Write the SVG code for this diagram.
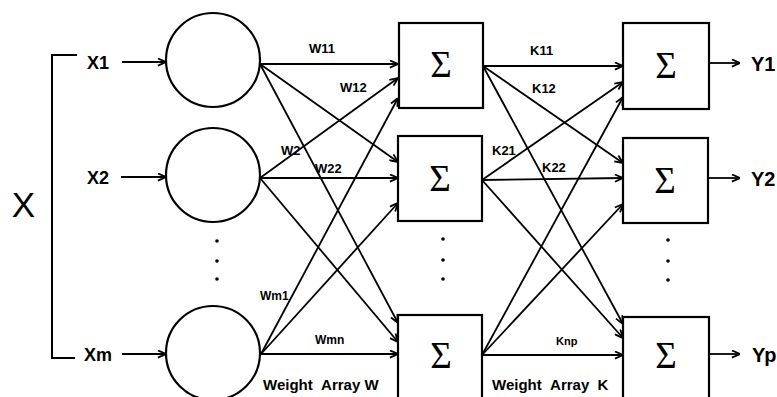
<svg xmlns="http://www.w3.org/2000/svg" width="777" height="397" viewBox="0 0 777 397">
<style>
.bg{fill:#fff}
.node{fill:#fff;stroke:#000;stroke-width:2.2}
.ln{stroke:#000;stroke-width:2;fill:none}
.arr{stroke:#000;stroke-width:1.8;fill:none;marker-end:url(#ah)}
.lab{font-family:"Liberation Sans",Arial,sans-serif;font-weight:bold;fill:#000}
.io{font-size:18px}
.w{font-size:13px}
.ws{font-size:12px}
.wa{font-size:15px}
.sig{font-family:"Liberation Serif","Times New Roman",serif;font-size:37px;fill:#000;text-anchor:middle}
.dot{fill:#000}
</style>
<defs>
<marker id="ah" viewBox="0 0 10 10" refX="10" refY="5" markerWidth="9" markerHeight="9" markerUnits="userSpaceOnUse" orient="auto">
<path d="M1,1 L10,5 L1,9" fill="none" stroke="#000" stroke-width="2"/>
</marker>
</defs>
<rect class="bg" x="0" y="0" width="777" height="397"/>

<g id="input-bracket">
<path class="ln" d="M77,55 H52 V358 H75"/>
<text x="23.5" y="217" font-family="'Liberation Sans',Arial,sans-serif" font-size="35" text-anchor="middle">X</text>
</g>

<g id="inputs">
<text class="lab io" x="87" y="69">X1</text>
<text class="lab io" x="87" y="184">X2</text>
<text class="lab io" x="84" y="361">Xm</text>
</g>

<g id="n1"><circle class="node" cx="213" cy="60" r="47"/></g>
<g id="n2"><circle class="node" cx="213" cy="175" r="47"/></g>
<g id="n3"><circle class="node" cx="213" cy="353" r="47"/></g>
<g id="dots1"><circle class="dot" cx="217" cy="241" r="1.8"/><circle class="dot" cx="217" cy="261" r="1.8"/><circle class="dot" cx="217" cy="279" r="1.8"/></g>

<g id="s1"><rect class="node" x="399" y="23" width="84" height="85"/><text class="sig" x="441" y="77">Σ</text></g>
<g id="s2"><rect class="node" x="398" y="136" width="84" height="85"/><text class="sig" x="440" y="191">Σ</text></g>
<g id="s3"><rect class="node" x="398" y="315" width="84" height="90"/><text class="sig" x="441" y="368">Σ</text></g>
<g id="dots2"><circle class="dot" cx="443" cy="239" r="1.8"/><circle class="dot" cx="443" cy="260" r="1.8"/><circle class="dot" cx="443" cy="279" r="1.8"/></g>

<g id="o1"><rect class="node" x="623" y="23" width="86" height="86"/><text class="sig" x="666" y="78">Σ</text></g>
<g id="o2"><rect class="node" x="623" y="138" width="85" height="85"/><text class="sig" x="665" y="193">Σ</text></g>
<g id="o3"><rect class="node" x="623" y="317" width="86" height="90"/><text class="sig" x="666" y="368">Σ</text></g>
<g id="dots3"><circle class="dot" cx="668" cy="240" r="1.8"/><circle class="dot" cx="668" cy="261" r="1.8"/><circle class="dot" cx="668" cy="280" r="1.8"/></g>

<g id="outputs">
<text class="lab" font-size="20" x="751" y="71">Y1</text>
<text class="lab" font-size="20" x="751" y="186">Y2</text>
<text class="lab" font-size="20" x="752" y="362">Yp</text>
</g>

<g id="connectors">
<line class="arr" x1="122" y1="62" x2="166" y2="62"/>
<line class="arr" x1="121" y1="177" x2="166" y2="177"/>
<line class="arr" x1="122" y1="354" x2="166" y2="354"/>

<line class="arr" x1="260" y1="64" x2="398" y2="64"/>
<line class="arr" x1="260" y1="64" x2="398" y2="162"/>
<line class="arr" x1="260" y1="64" x2="398" y2="323"/>
<line class="arr" x1="260" y1="178" x2="398" y2="78"/>
<line class="arr" x1="260" y1="178" x2="398" y2="178"/>
<line class="arr" x1="260" y1="178" x2="398" y2="342"/>
<line class="arr" x1="261" y1="354" x2="398" y2="98"/>
<line class="arr" x1="261" y1="354" x2="398" y2="203"/>
<line class="arr" x1="261" y1="354" x2="398" y2="354"/>

<line class="arr" x1="483" y1="66" x2="623" y2="66"/>
<line class="arr" x1="483" y1="66" x2="623" y2="163"/>
<line class="arr" x1="483" y1="66" x2="623" y2="324"/>
<line class="arr" x1="482" y1="180" x2="623" y2="82"/>
<line class="arr" x1="482" y1="180" x2="623" y2="178"/>
<line class="arr" x1="482" y1="180" x2="623" y2="338"/>
<line class="arr" x1="482" y1="355" x2="623" y2="97"/>
<line class="arr" x1="482" y1="355" x2="623" y2="204"/>
<line class="arr" x1="482" y1="355" x2="623" y2="355"/>

<line class="arr" x1="709" y1="63" x2="740" y2="63"/>
<line class="arr" x1="708" y1="178" x2="740" y2="178"/>
<line class="arr" x1="709" y1="354" x2="740" y2="354"/>
</g>

<g id="weight-labels">
<text class="lab w" x="309" y="53">W11</text>
<text class="lab w" x="340" y="92">W12</text>
<text class="lab w" x="281" y="155">W2</text>
<text class="lab w" x="315" y="173">W22</text>
<text class="lab ws" x="260" y="300">Wm1</text>
<text class="lab ws" x="315" y="344">Wmn</text>
<text class="lab wa" x="263" y="390">Weight&#160;&#160;Array W</text>
<text class="lab w" x="530" y="55">K11</text>
<text class="lab w" x="532" y="93">K12</text>
<text class="lab w" x="492" y="155">K21</text>
<text class="lab w" x="542" y="172">K22</text>
<text class="lab" font-size="11" x="556" y="345">Knp</text>
<text class="lab wa" x="492" y="390">Weight&#160;&#160;Array&#160;&#160;K</text>
</g>
</svg>
